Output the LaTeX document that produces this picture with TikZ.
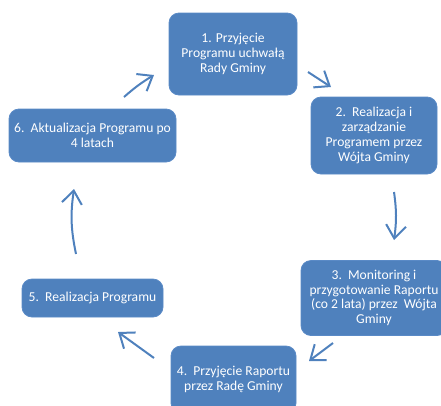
\documentclass[tikz,border=0pt]{standalone}
\usepackage{fontspec}
\setmainfont{Carlito}
\usetikzlibrary{arrows.meta,positioning}
\definecolor{officeblue}{HTML}{4F81BD}
\definecolor{boxedge}{HTML}{5A8AC6}

\begin{document}
\begin{tikzpicture}[
    x = 1pt, y = -1pt, % pixel like units, y going down
    flow/.style = {draw = officeblue, line width = 2pt,
      -{Straight Barb[length=13pt,width=20pt]}}, % open arrow head
    font = \fontsize{13.6}{14.8}\selectfont
    ]

    \tikzset{stage/.style={
    draw = boxedge,
    line width = 0.8pt,
    fill = officeblue,
    text = white,
    rounded corners = 10pt,
    align = center,
    inner sep = 0pt
    }}
    \useasboundingbox (0,0) rectangle (441,405);
    \clip (0,0) rectangle (441,405);

    \node[stage,minimum width=128pt,minimum height=82pt] (s1) at (233,54) {1. Przyjęcie\\Programu uchwałą\\Rady Gminy};
    \node[stage,minimum width=126pt,minimum height=77pt] (s2) at (374,135.5) {2.\ \ Realizacja i\\zarządzanie\\Programem przez\\Wójta Gminy};
    \node[stage,minimum width=146pt,minimum height=75pt] (s3) at (374,298) {3.\ \ Monitoring i\\przygotowanie Raportu\\(co 2 lata) przez\ \ Wójta\\Gminy};
    \node[stage,minimum width=125pt,minimum height=67pt] (s4) at (233.5,379.5) {4.\ \ Przyjęcie Raportu\\przez Radę Gminy};
    \node[stage,minimum width=141pt,minimum height=38pt] (s5) at (92.5,298) {5.\ \ Realizacja Programu};
    \node[stage,minimum width=167pt,minimum height=53pt] (s6) at (92.5,135.5) {6.\ \ Aktualizacja Programu po\\4 latach};

    % free arrow ends between the stages
    \coordinate (a1s) at (308,72);  \coordinate (a1e) at (331,87);
    \coordinate (a2s) at (394,192); \coordinate (a2e) at (394,240);
    \coordinate (a3s) at (333,343); \coordinate (a3e) at (309,361);
    \coordinate (a4s) at (154,358); \coordinate (a4e) at (118,332);
    \coordinate (a5s) at (76,254);  \coordinate (a5e) at (74,189);
    \coordinate (a6s) at (124,97);  \coordinate (a6e) at (154,75);

    \draw[flow] (a1s) -- (a1e);
    \draw[flow] (a2s) to[bend left=8] (a2e);
    \draw[flow] (a3s) -- (a3e);
    \draw[flow] (a4s) -- (a4e);
    \draw[flow] (a5s) to[bend left=10] (a5e);
    \draw[flow] (a6s) to[bend left=5] (a6e);
\end{tikzpicture}
\end{document}
